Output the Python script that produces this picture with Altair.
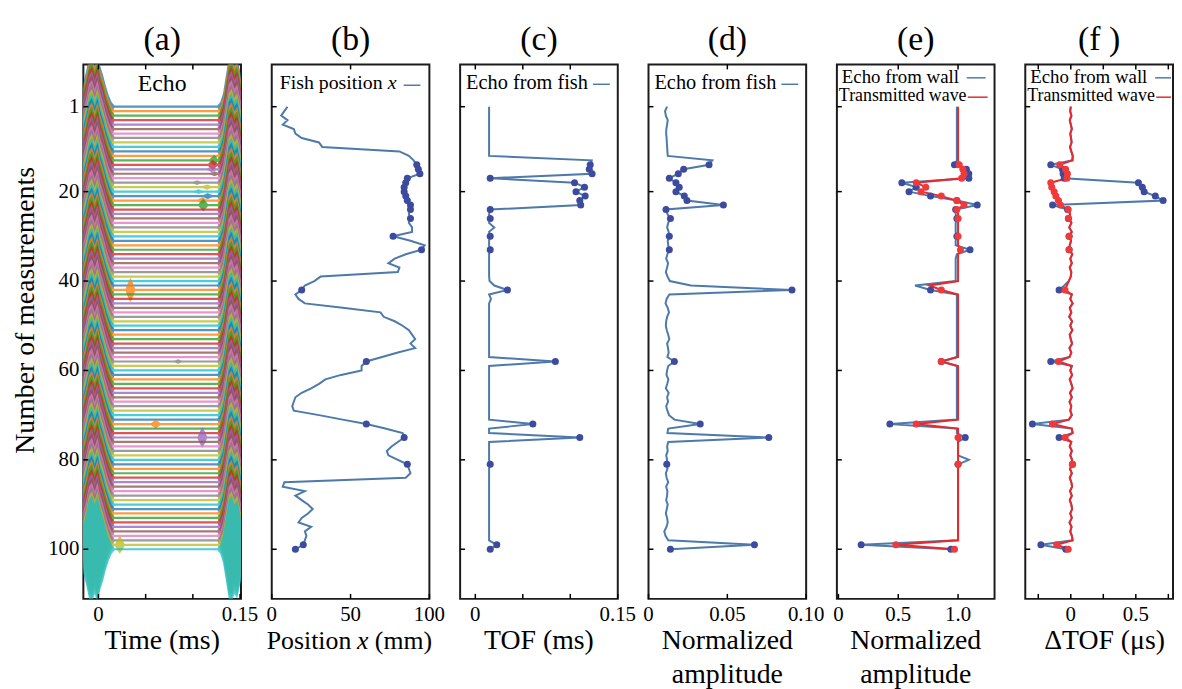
import altair as alt
import pandas as pd

SERIF = "Liberation Serif"
LINE_BLUE = "#4d79ab"
DOT_BLUE = "#3d4b9f"
LINE_RED = "#e8282b"
DOT_RED = "#f03a3a"
TAB10 = ["#1f77b4", "#ff7f0e", "#2ca02c", "#d62728", "#9467bd",
         "#8c564b", "#e377c2", "#7f7f7f", "#bcbd22", "#17becf"]

ROWS = list(range(1, 101))
FISH_ROWS = [14, 15, 16, 17, 18, 19, 20, 21, 22, 23, 24, 26, 30, 33, 42, 58, 72, 75, 81, 99, 100]
Y_TICKS = [1, 20, 40, 60, 80, 100]

# (b) fish position x (mm)
POS_X = [10, 8, 6, 10, 7, 14, 15, 19, 30, 32,
         81, 87, 90, 92, 93, 94, 86, 85, 84, 84,
         85, 86, 88, 88, 87, 88, 87, 89, 89, 77,
         88, 97, 95, 85, 78, 74, 81, 80, 31, 27,
         21, 19, 15, 17, 21, 45, 69, 71, 78, 83,
         87, 89, 91, 88, 91, 80, 70, 60, 57, 57,
         44, 34, 30, 25, 19, 15, 14, 13, 14, 30,
         45, 60, 72, 83, 84, 80, 76, 73, 74, 80,
         86, 87, 88, 85, 8, 7, 21, 15, 19, 23,
         26, 23, 19, 17, 25, 21, 22, 21, 20, 15]

# (c) TOF of echo from fish (ms)
TOF = [0.0145, 0.0145, 0.0145, 0.0145, 0.0145, 0.0145, 0.0145, 0.0145, 0.0145, 0.0145,
       0.0145, 0.0145, 0.1226, 0.121, 0.120, 0.123, 0.0157, 0.1045, 0.115, 0.106,
       0.1157, 0.110, 0.111, 0.0157, 0.0145, 0.0157, 0.0145, 0.0200, 0.0145, 0.0157,
       0.0145, 0.0145, 0.0157, 0.0145, 0.0145, 0.0145, 0.0145, 0.0145, 0.0145, 0.0150,
       0.0200, 0.0338, 0.0145, 0.0165, 0.0145, 0.0145, 0.0145, 0.0145, 0.0145, 0.0145,
       0.0145, 0.0145, 0.0145, 0.0145, 0.0145, 0.0145, 0.0145, 0.0843, 0.0145, 0.0145,
       0.0145, 0.0145, 0.0145, 0.0145, 0.0145, 0.0145, 0.0145, 0.0145, 0.0145, 0.0145,
       0.0145, 0.0606, 0.0145, 0.0145, 0.110, 0.0145, 0.0145, 0.0145, 0.0145, 0.0145,
       0.0157, 0.0145, 0.0145, 0.0145, 0.0145, 0.0145, 0.0145, 0.0145, 0.0145, 0.0145,
       0.0145, 0.0145, 0.0145, 0.0145, 0.0145, 0.0145, 0.0145, 0.0145, 0.0226, 0.0157]

# (d) normalized amplitude of echo from fish
AMP = [0.0118, 0.0105, 0.0110, 0.0122, 0.0118, 0.0113, 0.0112, 0.0115, 0.0116, 0.0118,
       0.0120, 0.0122, 0.0405, 0.0384, 0.0223, 0.0189, 0.0132, 0.0174, 0.0195, 0.0174,
       0.0227, 0.0244, 0.0475, 0.0111, 0.0120, 0.0139, 0.0125, 0.0118, 0.0128, 0.0132,
       0.0122, 0.0125, 0.0132, 0.0120, 0.0112, 0.0124, 0.0118, 0.0110, 0.0121, 0.0135,
       0.0269, 0.0910, 0.0132, 0.0115, 0.0108, 0.0122, 0.0130, 0.0118, 0.0112, 0.0110,
       0.0116, 0.0125, 0.0132, 0.0118, 0.0124, 0.0128, 0.0120, 0.0164, 0.0125, 0.0118,
       0.0114, 0.0126, 0.0119, 0.0110, 0.0128, 0.0118, 0.0124, 0.0112, 0.0120, 0.0130,
       0.0164, 0.0328, 0.0125, 0.0120, 0.0763, 0.0125, 0.0118, 0.0122, 0.0112, 0.0118,
       0.0116, 0.0120, 0.0110, 0.0115, 0.0125, 0.0112, 0.0120, 0.0118, 0.0112, 0.0122,
       0.0116, 0.0110, 0.0118, 0.0122, 0.0114, 0.0100, 0.0108, 0.0125, 0.0672, 0.0139]

# (e) normalized amplitude: echo from wall / transmitted wave
WALL_AMP = [0.99, 0.99, 0.99, 0.99, 0.99, 0.99, 0.99, 0.99, 0.99, 0.99,
            0.99, 0.99, 0.99, 0.97, 1.07, 1.09, 1.09, 0.53, 0.65, 0.59,
            0.77, 0.99, 1.16, 0.98, 0.98, 0.99, 0.98, 0.98, 0.98, 0.99,
            0.98, 0.98, 1.10, 0.99, 0.98, 0.98, 0.98, 0.98, 0.98, 0.98,
            0.64, 0.77, 0.99, 0.99, 0.99, 0.99, 0.99, 0.99, 0.99, 0.99,
            0.99, 0.99, 0.99, 0.99, 0.99, 0.99, 0.99, 0.86, 0.99, 0.99,
            0.99, 0.99, 0.99, 0.99, 0.99, 0.99, 0.99, 0.99, 0.99, 0.99,
            0.99, 0.43, 0.99, 0.99, 1.06, 1.00, 1.00, 1.00, 1.00, 1.09,
            1.00, 1.00, 1.00, 1.00, 1.00, 1.00, 1.00, 1.00, 1.00, 1.00,
            1.00, 1.00, 1.00, 1.00, 1.00, 1.00, 1.00, 1.00, 0.19, 0.94]
TRANS_AMP = [1.00, 1.00, 1.00, 1.00, 1.00, 1.00, 1.00, 1.00, 1.00, 1.00,
             1.00, 1.00, 1.00, 1.01, 1.04, 1.05, 1.03, 0.65, 0.73, 0.69,
             0.86, 0.99, 1.05, 0.99, 1.00, 1.00, 1.00, 1.00, 1.00, 1.00,
             1.00, 1.00, 1.02, 1.00, 1.00, 1.00, 1.00, 1.00, 1.00, 1.00,
             0.76, 0.86, 1.00, 1.00, 1.00, 1.00, 1.00, 1.00, 1.00, 1.00,
             1.00, 1.00, 1.00, 1.00, 1.00, 1.00, 1.00, 0.86, 1.00, 1.00,
             1.00, 1.00, 1.00, 1.00, 1.00, 1.00, 1.00, 1.00, 1.00, 1.00,
             1.00, 0.65, 1.00, 1.00, 1.00, 1.00, 1.00, 1.00, 1.00, 1.00,
             1.00, 1.00, 1.00, 1.00, 1.00, 1.00, 1.00, 1.00, 1.00, 1.00,
             1.00, 1.00, 1.00, 1.00, 1.00, 1.00, 1.00, 1.00, 0.48, 0.97]

# (f) delta TOF (us): echo from wall / transmitted wave
WALL_DTOF = [0.000, -0.005, 0.005, -0.008, 0.000, 0.008, -0.004, 0.002, 0.006, -0.006,
             0.004, 0.015, 0.015, -0.154, -0.064, -0.059, -0.050, 0.520, 0.550, 0.564,
             0.650, 0.710, -0.140, -0.025, -0.005, -0.018, 0.005, -0.012, 0.008, -0.013,
             0.002, -0.008, -0.013, 0.012, -0.004, 0.008, -0.008, 0.004, 0.000, -0.015,
             -0.050, -0.090, 0.008, -0.004, 0.014, -0.008, 0.004, -0.012, 0.010, -0.004,
             0.012, -0.008, 0.000, 0.010, -0.010, 0.004, -0.010, -0.154, 0.008, -0.004,
             0.010, -0.008, 0.004, 0.014, -0.006, 0.008, -0.010, 0.004, -0.004, 0.008,
             -0.015, -0.295, 0.008, 0.014, -0.090, 0.004, -0.008, 0.008, -0.004, 0.010,
             0.013, -0.006, 0.008, -0.008, 0.004, 0.010, -0.006, 0.008, -0.008, 0.004,
             0.010, -0.004, 0.008, -0.010, 0.006, -0.004, 0.008, 0.014, -0.230, -0.038]
TRANS_DTOF = [0.000, -0.005, 0.005, -0.008, 0.000, 0.008, -0.004, 0.002, 0.006, -0.006,
              0.004, 0.015, 0.010, -0.085, -0.040, -0.026, -0.030, -0.154, -0.146, -0.128,
              -0.115, -0.095, -0.080, -0.020, -0.005, -0.018, 0.005, -0.012, 0.008, -0.013,
              0.002, -0.008, -0.013, 0.012, -0.004, 0.008, -0.008, 0.004, 0.000, -0.015,
              -0.030, -0.044, 0.008, -0.004, 0.014, -0.008, 0.004, -0.012, 0.010, -0.004,
              0.012, -0.008, 0.000, 0.010, -0.010, 0.004, -0.010, -0.095, 0.008, -0.004,
              0.010, -0.008, 0.004, 0.014, -0.006, 0.008, -0.010, 0.004, -0.004, 0.008,
              -0.015, -0.141, 0.008, 0.014, -0.044, 0.004, -0.008, 0.008, -0.004, 0.010,
              0.013, -0.006, 0.008, -0.008, 0.004, 0.010, -0.006, 0.008, -0.008, 0.004,
              0.010, -0.004, 0.008, -0.010, 0.006, -0.004, 0.008, 0.014, -0.108, -0.020]

# (a) waveform envelopes (half-height in measurement rows)
PULSE_T = [-0.0165, -0.013, -0.010, -0.007, -0.004, -0.001, 0.002, 0.005, 0.008, 0.011, 0.014, 0.017]
PULSE_A = [5.0, 8.0, 11.0, 12.0, 10.0, 12.0, 9.0, 7.0, 4.5, 2.5, 1.0, 0.25]
WALLP_T = [0.126, 0.129, 0.132, 0.135, 0.138, 0.141, 0.144, 0.147, 0.150, 0.152]
WALLP_A = [0.25, 1.0, 3.0, 7.0, 11.0, 12.0, 10.0, 11.0, 8.0, 6.0]
BASE_A = 0.25
BLOB_DT = [-0.005, -0.0025, 0.0, 0.0025, 0.005]
BLOB_K = [0.0, 0.6, 1.0, 0.6, 0.0]
BLOB_SCALE = 30.0

# tick positions and tick labels of each panel's x axis
A_TICKS, A_TOP, A_LAB, A_LABTXT = [0, 0.05, 0.1, 0.15], [0, 0.05, 0.1], [0, 0.15], ["0", "0.15"]
B_TICKS, B_TOP, B_LAB, B_LABTXT = [0, 50, 100], [50], [0, 50, 100], ["0", "50", "100"]
C_TICKS, C_TOP, C_LAB, C_LABTXT = [0, 0.05, 0.1, 0.15], [0, 0.05, 0.1], [0, 0.15], ["0", "0.15"]
D_TICKS, D_TOP, D_LAB, D_LABTXT = [0, 0.05, 0.1], [0.05], [0, 0.05, 0.1], ["0", "0.05", "0.10"]
E_TICKS, E_TOP, E_LAB, E_LABTXT = [0, 0.5, 1.0], [0.5, 1.0], [0, 0.5, 1.0], ["0", "0.5", "1.0"]
F_TICKS = [-0.25, 0, 0.25, 0.5, 0.75]
F_TOP, F_LAB, F_LABTXT = [-0.25, 0, 0.25, 0.5, 0.75], [0, 0.5], ["0", "0.5"]

W = 159
WF = 149
H = 539
YS = alt.Scale(domain=[-8.45, 111.1], reverse=True, nice=False, zero=False)
ONE = pd.DataFrame({"k": [0]})
DF_YT = pd.DataFrame({"r": Y_TICKS})


def tick_layers(xs, bvals, tvals, labvals, labtxt, ylabels=False):
    bt = alt.Chart(pd.DataFrame({"t": bvals})).mark_rule(color="black", strokeWidth=1.5).encode(
        x=alt.X("t:Q", scale=xs, axis=None), y=alt.value(H), y2=alt.value(H - 5))
    tt = alt.Chart(pd.DataFrame({"t": tvals})).mark_rule(color="black", strokeWidth=1.5).encode(
        x=alt.X("t:Q", scale=xs, axis=None), y=alt.value(0), y2=alt.value(5))
    yt = alt.Chart(DF_YT).mark_rule(color="black", strokeWidth=1.5).encode(
        y=alt.Y("r:Q", scale=YS, axis=None), x=alt.value(0), x2=alt.value(5))
    xl = alt.Chart(pd.DataFrame({"t": labvals, "lab": labtxt})).mark_text(
        align="center", baseline="top", font=SERIF, fontSize=21, color="black").encode(
        x=alt.X("t:Q", scale=xs, axis=None), y=alt.value(H + 5), text="lab:N")
    out = [bt, tt, yt, xl]
    if ylabels:
        yl = alt.Chart(DF_YT).mark_text(align="right", baseline="middle", font=SERIF,
                                        fontSize=21, color="black").encode(
            y=alt.Y("r:Q", scale=YS, axis=None), x=alt.value(-4), text="r:Q")
        out.append(yl)
        out.append(alt.Chart(ONE).mark_text(text="Number of measurements", angle=270,
                                            align="center", baseline="alphabetic", font=SERIF,
                                            fontSize=28, color="black").encode(
            x=alt.value(-50), y=alt.value(248)))
    return out


def txt(s, x, y, size=20, style="normal", align="left", **kw):
    return alt.Chart(ONE).mark_text(text=s, align=align, baseline="alphabetic", font=SERIF,
                                    fontSize=size, fontStyle=style, color="black", **kw).encode(
        x=alt.value(x), y=alt.value(y))


def dash(x1, x2, y, color):
    return alt.Chart(ONE).mark_rule(color=color, strokeWidth=1.5).encode(
        x=alt.value(x1), x2=alt.value(x2), y=alt.value(y))


def title(s):
    return alt.TitleParams(s, font=SERIF, fontSize=34, fontWeight="normal", color="black", offset=7)


# ---------- (a) ----------
recs = []
for i, r in enumerate(ROWS):
    pts = list(zip(PULSE_T, PULSE_A)) + list(zip(WALLP_T, WALLP_A))
    if TOF[i] > 0.02:
        for dt, k in zip(BLOB_DT, BLOB_K):
            t = TOF[i] + dt
            if PULSE_T[-1] < t < WALLP_T[0]:
                pts.append((t, max(BASE_A, k * AMP[i] * BLOB_SCALE)))
    pts.sort()
    for t, a in pts:
        recs.append({"row": r, "t": t, "lo": r - a, "hi": r + a, "ci": i % 10})
df_a = pd.DataFrame(recs)
xs_a = alt.Scale(domain=[-0.016, 0.151], nice=False, zero=False)
area_a = alt.Chart(df_a).mark_area(clip=True, opacity=0.78).encode(
    x=alt.X("t:Q", scale=xs_a, axis=None),
    y=alt.Y("lo:Q", scale=YS, axis=None),
    y2="hi:Q",
    color=alt.Color("ci:N", scale=alt.Scale(domain=list(range(10)), range=TAB10), legend=None),
    detail="row:N",
)
panel_a = alt.layer(
    area_a,
    *tick_layers(xs_a, A_TICKS, A_TOP, A_LAB, A_LABTXT, ylabels=True),
    txt("Echo", W / 2, 27, size=24, align="center"),
    txt("Time (ms)", W / 2, H + 51, size=28, align="center"),
).properties(width=W, height=H, title=title("(a)"))


def single_panel(values, xs, ticks, legend_layers, xtitle_layers, ttl, width=W):
    df = pd.DataFrame({"row": ROWS, "v": values})
    dfp = df[df["row"].isin(FISH_ROWS)]
    line = alt.Chart(df).mark_line(color=LINE_BLUE, strokeWidth=2).encode(
        x=alt.X("v:Q", scale=xs, axis=None),
        y=alt.Y("row:Q", scale=YS, axis=None),
        order="row:Q",
    )
    pts = alt.Chart(dfp).mark_circle(size=50, color=DOT_BLUE, opacity=1).encode(
        x=alt.X("v:Q", scale=xs, axis=None),
        y=alt.Y("row:Q", scale=YS, axis=None),
    )
    return alt.layer(line, pts, *tick_layers(xs, *ticks), *legend_layers,
                     *xtitle_layers).properties(width=width, height=H, title=title(ttl))


def double_panel(wall, trans, xs, ticks, xtitle_layers, ttl, width=W):
    df = pd.DataFrame({"row": ROWS + ROWS, "v": wall + trans,
                       "s": ["wall"] * 100 + ["trans"] * 100})
    dfp = df[df["row"].isin(FISH_ROWS)]
    line = alt.Chart(df).mark_line(strokeWidth=2).encode(
        x=alt.X("v:Q", scale=xs, axis=None),
        y=alt.Y("row:Q", scale=YS, axis=None),
        color=alt.Color("s:N", scale=alt.Scale(domain=["wall", "trans"], range=[LINE_BLUE, LINE_RED]),
                        legend=None),
        order="row:Q",
    )
    pts = alt.Chart(dfp).mark_circle(size=50, opacity=1).encode(
        x=alt.X("v:Q", scale=xs, axis=None),
        y=alt.Y("row:Q", scale=YS, axis=None),
        color=alt.Color("s:N", scale=alt.Scale(domain=["wall", "trans"], range=[DOT_BLUE, DOT_RED]),
                        legend=None),
    )
    leg = [
        txt("Echo from wall", 5, 19, size=19),
        dash(131, min(150, width - 2), 13.5, LINE_BLUE),
        txt("Transmitted wave", 2, 37, size=18),
        dash(132, min(152, width - 2), 33, LINE_RED),
    ]
    return alt.layer(line, pts, *tick_layers(xs, *ticks), *leg,
                     *xtitle_layers).resolve_scale(color="independent").properties(
        width=width, height=H, title=title(ttl))


# ---------- (b) ----------
panel_b = single_panel(
    POS_X, alt.Scale(domain=[0, 100], nice=False, zero=False),
    (B_TICKS, B_TOP, B_LAB, B_LABTXT),
    [txt("Fish position", 8, 25, size=20), txt("x", 117, 25, size=20, style="italic"),
     dash(133, 150, 21, LINE_BLUE)],
    [txt("Position", -5, H + 51, size=26), txt("x", 86, H + 51, size=26, style="italic"),
     txt("(mm)", 104, H + 51, size=26)],
    "(b)")

# ---------- (c) ----------
panel_c = single_panel(
    TOF, alt.Scale(domain=[-0.016, 0.15], nice=False, zero=False),
    (C_TICKS, C_TOP, C_LAB, C_LABTXT),
    [txt("Echo from fish", 6, 25, size=20.5), dash(134, 151, 20, LINE_BLUE)],
    [txt("TOF (ms)", W / 2, H + 51, size=28, align="center")],
    "(c)")

# ---------- (d) ----------
panel_d = single_panel(
    AMP, alt.Scale(domain=[0, 0.1], nice=False, zero=False),
    (D_TICKS, D_TOP, D_LAB, D_LABTXT),
    [txt("Echo from fish", 6, 25, size=20.5), dash(134, 151, 20, LINE_BLUE)],
    [txt("Normalized\namplitude", W / 2, H + 51, size=28, align="center", lineBreak="\n",
         lineHeight=34)],
    "(d)")

# ---------- (e) ----------
panel_e = double_panel(
    WALL_AMP, TRANS_AMP, alt.Scale(domain=[-0.013, 1.305], nice=False, zero=False),
    (E_TICKS, E_TOP, E_LAB, E_LABTXT),
    [txt("Normalized\namplitude", W / 2, H + 51, size=28, align="center", lineBreak="\n",
         lineHeight=34)],
    "(e)")

# ---------- (f) ----------
panel_f = double_panel(
    WALL_DTOF, TRANS_DTOF, alt.Scale(domain=[-0.35, 0.786], nice=False, zero=False),
    (F_TICKS, F_TOP, F_LAB, F_LABTXT),
    [txt("\u0394TOF (\u03bcs)", 80, H + 51, size=28, align="center")],
    "(f )", width=WF)

chart = alt.hconcat(panel_a, panel_b, panel_c, panel_d, panel_e, panel_f,
                    spacing=31, bounds="flush").properties(
    padding={"left": 2, "top": 11, "right": 0, "bottom": 0}
).configure_view(stroke="#1c1c1c", strokeWidth=2)

chart.save("out.html", embed_options={"renderer": "svg", "actions": False})
